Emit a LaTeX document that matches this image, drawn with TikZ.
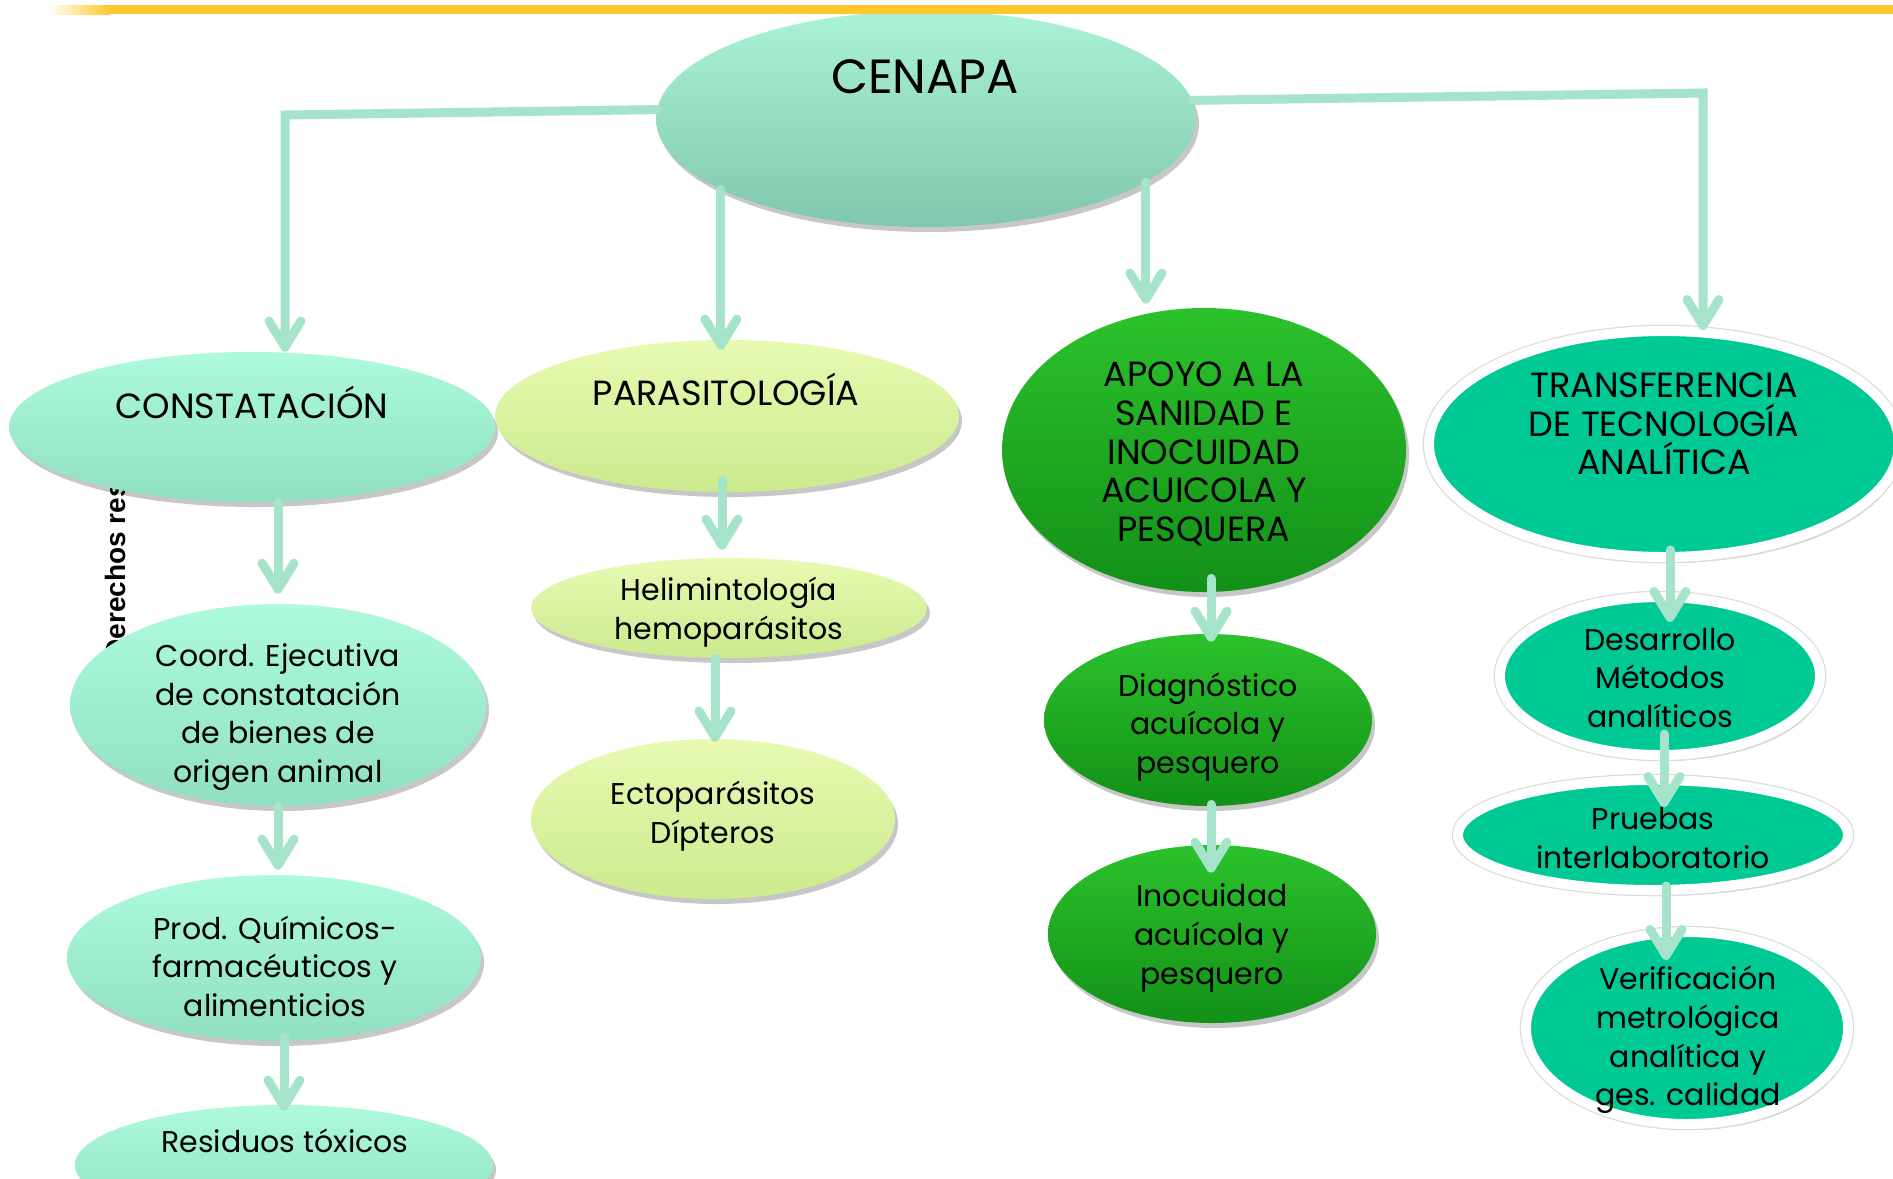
\documentclass[tikz,border=0pt]{standalone}
\usepackage{fontspec}
\setmainfont{Poppins}
\newfontfamily\wmfont{Liberation Sans}
\usetikzlibrary{shapes.geometric,arrows.meta,shadows}
\definecolor{conncol}{HTML}{A5E3CB}
\definecolor{orangeline}{HTML}{FFC72C}
\definecolor{cenT}{HTML}{ABF3D6}
\definecolor{cenB}{HTML}{80C7AD}
\definecolor{mintT}{HTML}{ADFADD}
\definecolor{mintB}{HTML}{90E0C0}
\definecolor{limeT}{HTML}{E8FAB2}
\definecolor{limeB}{HTML}{CCEA8E}
\definecolor{grnT}{HTML}{2CC22C}
\definecolor{grnB}{HTML}{139018}
\definecolor{tealfill}{HTML}{00C996}
\begin{document}
\begin{tikzpicture}[x=0.5pt,y=-0.5pt,
  bub/.style={ellipse, inner sep=0pt,
    drop shadow={shadow xshift=1.5pt, shadow yshift=-2.5pt, fill=black, opacity=0.22}},
  cenbub/.style={bub, top color=cenT, bottom color=cenB},
  mintbub/.style={bub, top color=mintT, bottom color=mintB},
  limebub/.style={bub, top color=limeT, bottom color=limeB},
  grnbub/.style={bub, top color=grnT, bottom color=grnB},
  tealbub/.style={ellipse, inner sep=0pt, fill=tealfill, draw=white, line width=5pt,
    drop shadow={shadow xshift=1.5pt, shadow yshift=-3pt, fill=black, opacity=0.22},
    preaction={draw=black!14, line width=6.2pt}},
  lbl/.style={font=\fontsize{15}{19.3}\selectfont, align=center, inner sep=0pt, text=black},
  caps/.style={lbl, font=\fontsize{17.5}{19.3}\selectfont},
  conn/.style={draw=conncol, line width=4.5pt, line cap=round,
    -{Straight Barb[length=13pt,width=16pt,round]}}
]
\useasboundingbox (0,0) rectangle (1893,1178);
\fill[white] (0,0) rectangle (1893,1178);

% watermark fragment
\node[rotate=90, anchor=base west, inner sep=0pt, font=\wmfont\bfseries\fontsize{14}{16}\selectfont] (wm) at (125,660) {Derechos res};

% ellipses
\node[cenbub, minimum width=270pt, minimum height=108pt] (cen) at (926,119) {};
\node[mintbub, minimum width=243pt, minimum height=75pt] (const) at (252,427) {};
\node[limebub, minimum width=232pt, minimum height=76pt] (para) at (727,416) {};
\node[grnbub, minimum width=202pt, minimum height=142pt] (apoyo) at (1204,450) {};
\node[tealbub, minimum width=235pt, minimum height=113pt] (trans) at (1664,444) {};
\node[mintbub, minimum width=208pt, minimum height=101pt] (coord) at (278,705) {};
\node[mintbub, minimum width=207pt, minimum height=83pt] (prod) at (274,958) {};
\node[mintbub, minimum width=209pt, minimum height=60pt] (resid) at (284,1165) {};
\node[limebub, minimum width=198pt, minimum height=50pt] (helim) at (729,608) {};
\node[limebub, minimum width=182pt, minimum height=80pt] (ecto) at (713,819) {};
\node[grnbub, minimum width=164pt, minimum height=86pt] (diag) at (1208,720) {};
\node[grnbub, minimum width=164pt, minimum height=89pt] (inoc) at (1212,934) {};
\node[tealbub, minimum width=160pt, minimum height=79pt] (desa) at (1660,676) {};
\node[tealbub, minimum width=195pt, minimum height=55pt] (prueb) at (1653,835) {};
\node[tealbub, minimum width=161pt, minimum height=96pt] (verif) at (1687,1028) {};

% top connectors
\coordinate (kl) at (285,115);
\coordinate (kr) at (1703,93);
\draw[conn] (cen.178) -- (kl) -- (kl |- const.north);
\draw[conn, shorten >=-2pt] (cen.4) -- (kr) -- (kr |- trans.north);
\draw[conn, shorten >=-5pt] (cen.199) -- (cen.199 |- para.north);
\draw[conn, shorten >=2pt] (cen.344) -- (cen.344 |- apoyo.north);

% lower connectors
\draw[conn, shorten >=5pt] (coord.north |- const.south) -- (coord.north);
\draw[conn, shorten >=2.5pt] (coord.south) -- (coord.south |- prod.north);
\draw[conn, shorten <=-2pt, shorten >=-3pt] (resid.north |- prod.south) -- (resid.north);
\draw[conn, shorten <=-6pt, shorten >=4pt] (para.south -| 722,0) -- (helim.north -| 722,0);
\draw[conn, shorten >=-1.5pt] (helim.south -| 715,0) -- (ecto.north -| 715,0);
\draw[conn, shorten <=-7pt, shorten >=-4pt] (apoyo.south -| 1211,0) -- (diag.north -| 1211,0);
\draw[conn, shorten <=-1pt, shorten >=-14pt] (diag.south -| 1211,0) -- (inoc.north -| 1211,0);
\draw[conn, shorten <=-6pt, shorten >=-15pt] (trans.south -| 1670,0) -- (desa.north -| 1670,0);
\draw[conn, shorten <=-13pt, shorten >=-16pt] (desa.south -| 1664,0) -- (prueb.north -| 1664,0);
\draw[conn, shorten <=-4.5pt, shorten >=-16.5pt] (prueb.south -| 1666,0) -- (verif.north -| 1666,0);

% labels
\node[lbl, font=\fontsize{24}{28}\selectfont] (tcen) at (925,77) {CENAPA};
\node[caps] (tconst) at (252,402) {CONSTATACIÓN};
\node[caps] (tpara) at (726,389) {PARASITOLOGÍA};
\node[caps] (tapoyo) at (1204,454) {APOYO A LA\\SANIDAD E\\INOCUIDAD\\ACUICOLA Y\\PESQUERA};
\node[caps] (ttrans) at (1664,424) {TRANSFERENCIA\\DE TECNOLOGÍA\\ANALÍTICA};
\node[lbl] (tcoord) at (278,717) {Coord. Ejecutiva\\de constatación\\de bienes de\\origen animal};
\node[lbl] (tprod) at (275,966) {Prod. Químicos-\\farmacéuticos y\\alimenticios};
\node[lbl] (tresid) at (285,1141) {Residuos tóxicos};
\node[lbl] (thelim) at (729,612) {Helimintología\\hemoparásitos};
\node[lbl] (tecto) at (713,816) {Ectoparásitos\\Dípteros};
\node[lbl] (tdiag) at (1208,727) {Diagnóstico\\acuícola y\\pesquero};
\node[lbl] (tinoc) at (1212,938) {Inocuidad\\acuícola y\\pesquero};
\node[lbl] (tdesa) at (1660,678) {Desarrollo\\Métodos\\analíticos};
\node[lbl] (tprueb) at (1653,838) {Pruebas\\interlaboratorio};
\node[lbl] (tverif) at (1688,1040) {Verificación\\metrológica\\analítica y\\ges. calidad};

% top orange rule
\fill[orangeline] (110,5) rectangle (1893,14);
\shade[left color=white, right color=orangeline] (48,5) rectangle (110,14);
\end{tikzpicture}
\end{document}
